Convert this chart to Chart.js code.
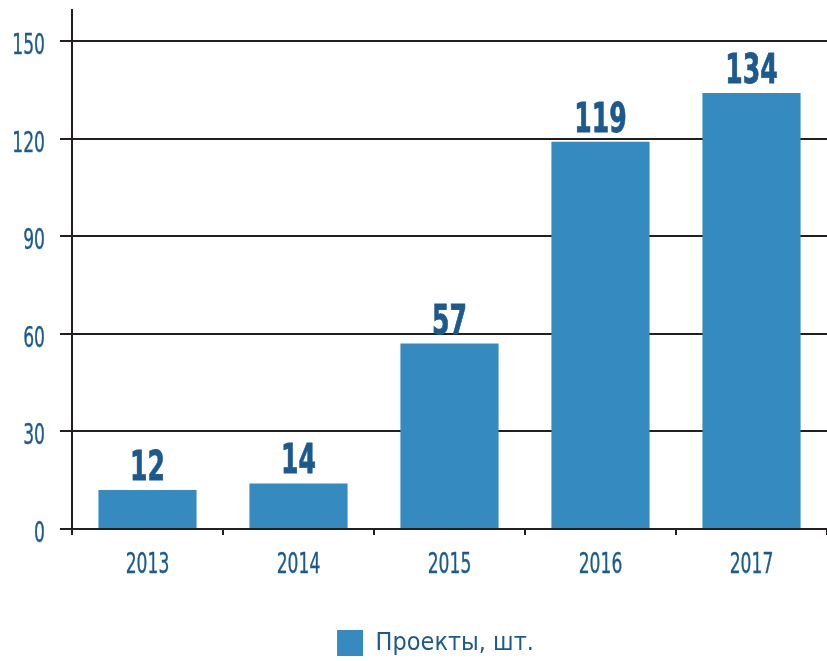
<!DOCTYPE html>
<html>
<head>
<meta charset="utf-8">
<script src="https://cdn.jsdelivr.net/npm/chart.js@4.4.0/dist/chart.umd.min.js"></script>
<style>
  html, body { margin: 0; padding: 0; background: #fff; }
  #wrap { width: 827px; height: 661px; }
</style>
</head>
<body>
<div id="wrap"><canvas id="projChart" width="827" height="661"></canvas></div>
<script>
const years = ["2013", "2014", "2015", "2016", "2017"];
const projects = [12, 14, 57, 119, 134];
const yTicks = [0, 30, 60, 90, 120, 150];
const seriesName = "Проекты, шт.";

const barColor = "#358abf";
const textColor = "#1c5a8d";
const lineColor = "#231f20";
const narrow = '"Liberation Sans Narrow", "DejaVu Sans Condensed", sans-serif';
const squeeze = 0.68; // no condensed DIN-like font here, so squeeze DejaVu

function squeezedText(ctx, text, x, y, align, sx, stroke) {
  ctx.save();
  ctx.translate(x, y);
  ctx.scale(sx, 1);
  ctx.textAlign = align;
  ctx.fillText(text, 0, 0);
  if (stroke) {
    ctx.lineWidth = stroke;
    ctx.strokeText(text, 0, 0);
  }
  ctx.restore();
}

// tick labels and values above bars, drawn condensed
const condensedText = {
  id: "condensedText",
  afterLayout(chart) {
    // legend sits a bit right of the page centre in the original
    if (chart.legend) chart.legend.left += 44;
  },
  afterDatasetsDraw(chart) {
    const ctx = chart.ctx;
    const { x, y } = chart.scales;
    ctx.save();
    ctx.fillStyle = textColor;
    ctx.strokeStyle = textColor;
    ctx.textBaseline = "alphabetic";

    ctx.font = "28px " + narrow;
    yTicks.forEach((v) => {
      squeezedText(ctx, String(v), y.right - 27, y.getPixelForValue(v) + 13, "right", squeeze, 0.4);
    });
    years.forEach((label, i) => {
      squeezedText(ctx, label, x.getPixelForTick(i), y.bottom + 44, "center", squeeze, 0.4);
    });

    ctx.font = "bold 41px " + narrow;
    chart.getDatasetMeta(0).data.forEach((bar, i) => {
      squeezedText(ctx, String(projects[i]), bar.x, bar.y - 10, "center", 0.68, 0.8);
    });
    ctx.restore();
  },
};

const ctx = document.getElementById("projChart").getContext("2d");
const projChart = new Chart(ctx, {
  type: "bar",
  data: {
    labels: years,
    datasets: [
      {
        label: seriesName,
        data: projects,
        backgroundColor: barColor,
        borderWidth: 0,
        barPercentage: 0.65,
        categoryPercentage: 1,
      },
    ],
  },
  options: {
    responsive: false,
    animation: false,
    layout: {
      padding: { top: 10, right: 0, bottom: -5, left: 0 },
    },
    plugins: {
      tooltip: { enabled: false },
      legend: {
        position: "bottom",
        labels: {
          boxWidth: 26,
          boxHeight: 26,
          padding: 0,
          color: textColor,
          font: { family: narrow, size: 25 },
        },
      },
    },
    scales: {
      x: {
        offset: true,
        grid: {
          offset: true,
          drawOnChartArea: false,
          drawTicks: true,
          tickLength: 6,
          color: lineColor,
          lineWidth: 2,
        },
        border: { display: true, color: lineColor, width: 2 },
        ticks: { display: false },
        afterFit(scale) {
          scale.height = 101;
          scale.paddingLeft = 0;
          scale.paddingRight = 0;
        },
      },
      y: {
        min: 0,
        max: 159.5,
        grid: {
          color: lineColor,
          lineWidth: 2,
          tickLength: 12,
        },
        border: { display: true, color: lineColor, width: 2 },
        ticks: { display: false, stepSize: 30 },
        afterBuildTicks(scale) {
          scale.ticks = yTicks.map((v) => ({ value: v }));
        },
        afterFit(scale) {
          scale.width = 72;
          scale.paddingTop = 0;
          scale.paddingBottom = 0;
        },
      },
    },
  },
  plugins: [condensedText],
});
</script>
</body>
</html>
